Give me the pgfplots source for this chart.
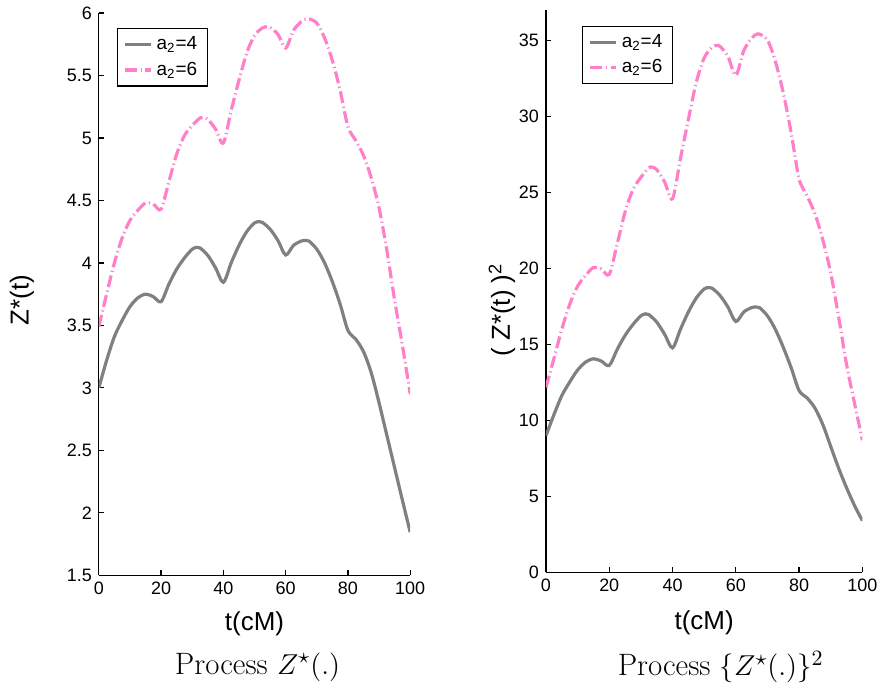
\documentclass[border=0pt]{standalone}
\usepackage{fontspec}
\newfontfamily\arial{Liberation Sans}
\usepackage{pgfplots}
\usepackage{pgfplotstable}
\pgfplotsset{compat=1.18}

\definecolor{curvegray}{RGB}{128,128,128}
\definecolor{curvepink}{RGB}{255,128,200}

% Z*(t), a2=4
\pgfplotstableread{
t z
0 3.00
2.5 3.22
5 3.41
7.5 3.54
10 3.65
12.5 3.72
15 3.75
17.5 3.73
20 3.69
22.5 3.83
25 3.95
27.5 4.04
30 4.11
31.5 4.125
32.5 4.12
35 4.06
37.5 3.96
40 3.845
42.5 4.00
45 4.14
47.5 4.25
50 4.32
51.5 4.33
52.5 4.325
55 4.27
57.5 4.18
60 4.064
62.5 4.14
65 4.175
66.5 4.18
67.5 4.175
70 4.11
72.5 4.00
75 3.85
77.5 3.67
80 3.46
82.5 3.39
85 3.29
87.5 3.12
90 2.88
92.5 2.62
95 2.36
97.5 2.10
100 1.845
}\zfour

% Z*(t), a2=6
\pgfplotstableread{
t z
0 3.49
2.5 3.75
5 4.00
7.5 4.20
10 4.34
12.5 4.42
15 4.48
17.5 4.47
20 4.43
22.5 4.65
25 4.87
27.5 5.02
30 5.10
32.5 5.16
33.5 5.165
35 5.15
37.5 5.07
40 4.96
42.5 5.22
45 5.46
47.5 5.68
50 5.82
52.5 5.88
54 5.89
55 5.885
57.5 5.83
60 5.72
62.5 5.86
65 5.93
67 5.955
70 5.92
72.5 5.80
75 5.62
77.5 5.38
80 5.09
82.5 4.98
85 4.86
87.5 4.68
90 4.44
92.5 4.10
95 3.70
97.5 3.34
100 2.95
}\zsix

% (Z*(t))^2, a2=4
\pgfplotstableread{
t z
0 9.00
2.5 10.37
5 11.63
7.5 12.53
10 13.32
12.5 13.84
15 14.06
17.5 13.91
20 13.62
22.5 14.67
25 15.60
27.5 16.32
30 16.89
31.5 17.02
32.5 16.97
35 16.48
37.5 15.68
40 14.78
42.5 16.00
45 17.14
47.5 18.06
50 18.66
51.5 18.75
52.5 18.71
55 18.23
57.5 17.47
60 16.52
62.5 17.14
65 17.43
66.5 17.47
67.5 17.43
70 16.89
72.5 16.00
75 14.82
77.5 13.47
80 11.97
82.5 11.49
85 10.82
87.5 9.73
90 8.29
92.5 6.86
95 5.57
97.5 4.41
100 3.40
}\sqfour

% (Z*(t))^2, a2=6
\pgfplotstableread{
t z
0 12.18
2.5 14.06
5 16.00
7.5 17.64
10 18.84
12.5 19.54
15 20.07
17.5 19.98
20 19.62
22.5 21.62
25 23.72
27.5 25.20
30 26.01
32.5 26.63
33.5 26.68
35 26.52
37.5 25.70
40 24.60
42.5 27.25
45 29.81
47.5 32.26
50 33.87
52.5 34.57
54 34.69
55 34.63
57.5 33.99
60 32.72
62.5 34.34
65 35.16
67 35.46
70 35.05
72.5 33.64
75 31.58
77.5 28.94
80 25.91
82.5 24.80
85 23.62
87.5 21.90
90 19.71
92.5 16.81
95 13.69
97.5 11.16
100 8.70
}\sqsix

\pgfplotsset{
  panel/.style={
    scale only axis,
    xmin=0, xmax=100,
    xtick={0,20,...,100},
    axis x line=bottom,
    axis y line=left,
    axis line style={-, black, line width=0.6pt},
    tick align=inside,
    major tick length=2.5pt,
    tick style={black, line width=0.6pt},
    /pgf/number format/assume math mode=true,
    ticklabel style={font=\arial\fontsize{9}{10}\selectfont},
    label style={font=\arial\fontsize{13}{15}\selectfont},
    legend cell align=left,
    legend style={font=\arial\fontsize{9.5}{11}\selectfont, draw=black,
      line width=0.6pt, inner xsep=3pt, inner ysep=2pt,
      row sep=0.5pt, anchor=north west},
    legend image code/.code={
      \draw[#1] (0pt,0pt) -- (13pt,0pt);
    },
  },
  lowline/.style={curvegray, line width=1.6pt, smooth, tension=0.5},
  highline/.style={curvepink, line width=1.6pt, smooth, tension=0.5,
    dash pattern=on 6pt off 1.8pt on 0.6pt off 1.8pt},
}

\begin{document}
\begin{tikzpicture}
\path (0,0) rectangle (442pt,345pt);

\begin{axis}[
  panel,
  at={(49.5pt,57pt)}, anchor=south west,
  width=156pt, height=281.7pt,
  ymin=1.5, ymax=6,
  ytick={1.5,2,...,6},
  xlabel={t(cM)},
  ylabel={Z*(t)},
  xlabel style={at={(axis description cs:0.5,-0.087)}, anchor=center},
  ylabel style={at={(axis description cs:-0.247,0.49)}, anchor=center},
  legend style={at={(axis description cs:0.058,0.973)}},
]
  \addplot[lowline] table[x=t, y=z] {\zfour};
  \addlegendentry{a\textsubscript{2}=4}
  \addplot[highline] table[x=t, y=z] {\zsix};
  \addlegendentry{a\textsubscript{2}=6}
\end{axis}

\begin{axis}[
  panel,
  at={(273.5pt,58.5pt)}, anchor=south west,
  width=158.5pt, height=281.5pt,
  ymin=0, ymax=37,
  ytick={0,5,...,35},
  xlabel={t(cM)},
  ylabel={( Z*(t) )\textsuperscript{2}},
  xlabel style={at={(axis description cs:0.5,-0.09)}, anchor=center},
  ylabel style={at={(axis description cs:-0.139,0.467)}, anchor=center},
  legend style={at={(axis description cs:0.114,0.973)}},
]
  \addplot[lowline] table[x=t, y=z] {\sqfour};
  \addlegendentry{a\textsubscript{2}=4}
  \addplot[highline] table[x=t, y=z] {\sqsix};
  \addlegendentry{a\textsubscript{2}=6}
\end{axis}

\node[font=\fontsize{15.5}{18}\selectfont] at (129pt,11pt) {Process $Z^{\star}(.)$};
\node[font=\fontsize{15.5}{18}\selectfont] at (361pt,11pt) {Process $\{Z^{\star}(.)\}^{2}$};
\end{tikzpicture}
\end{document}
